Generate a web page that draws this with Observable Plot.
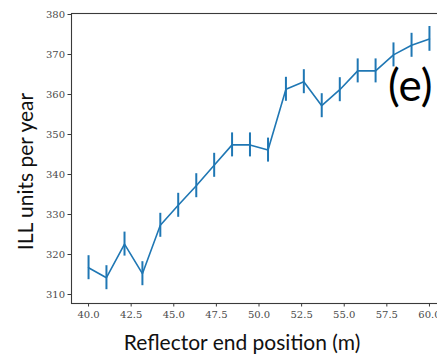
<!DOCTYPE html>
<html>
<head>
<meta charset="utf-8">
<script src="https://cdn.jsdelivr.net/npm/d3@7"></script>
<script src="https://cdn.jsdelivr.net/npm/@observablehq/plot@0.6"></script>
<style>
  html, body { margin: 0; padding: 0; background: #fff; }
  #chart svg { overflow: hidden; }
</style>
</head>
<body>
<div id="chart"></div>
<script>
// Reflector end positions (m): 20 evenly spaced positions from 40 to 60
const positions = [40.00, 41.05, 42.11, 43.16, 44.21, 45.26, 46.32, 47.37, 48.42, 49.47,
                   50.53, 51.58, 52.63, 53.68, 54.74, 55.79, 56.84, 57.89, 58.95, 60.00];
// ILL units per year (mean)
const illValues = [316.7, 314.2, 322.6, 315.2, 327.3, 332.3, 337.2, 342.3, 347.4, 347.4,
                   346.1, 361.3, 363.2, 357.2, 361.2, 365.9, 365.9, 369.9, 372.3, 373.9];
// error bar half-widths
const illErrors = [3.0, 3.0, 3.0, 3.0, 3.0, 3.0, 3.0, 3.0, 3.0, 3.0,
                   3.0, 3.0, 3.0, 3.0, 3.0, 3.0, 3.0, 3.0, 3.0, 3.1];
const xTicks = [40.0, 42.5, 45.0, 47.5, 50.0, 52.5, 55.0, 57.5, 60.0];
const yTicks = [310, 320, 330, 340, 350, 360, 370, 380];
const panelLabel = "(e)";
const xLabel = "Reflector end position (m)";
const yLabel = "ILL units per year";

const data = positions.map((x, i) => ({x, y: illValues[i], e: illErrors[i]}));

const blue = "#1f77b4";
const axisColor = "#3a3a3a";

const chart = Plot.plot({
  width: 437,
  height: 357,
  marginLeft: 71,
  marginRight: -9,
  marginTop: 13,
  marginBottom: 54,
  style: {background: "#fff"},
  x: {domain: [39, 61], ticks: xTicks, tickFormat: d => d.toFixed(1)},
  y: {domain: [307.75, 380.25], ticks: yTicks, tickFormat: d => String(d)},
  marks: [
    Plot.frame({stroke: axisColor, strokeWidth: 1.1}),
    Plot.axisX({ticks: xTicks, tickFormat: d => d.toFixed(1), tickSize: 3.5, tickPadding: 4,
      fontSize: 10, fontFamily: "DejaVu Serif", color: "#4a4a4a", stroke: axisColor, label: null}),
    Plot.axisY({ticks: yTicks, tickSize: 3.5, tickPadding: 3,
      fontSize: 10, fontFamily: "DejaVu Serif", color: "#4a4a4a", stroke: axisColor, label: null}),
    Plot.line(data, {x: "x", y: "y", stroke: blue, strokeWidth: 1.6}),
    Plot.ruleX(data, {x: "x", y1: d => d.y - d.e, y2: d => d.y + d.e, stroke: blue, strokeWidth: 2}),
    Plot.text([panelLabel], {frameAnchor: "top-right", textAnchor: "end", lineAnchor: "middle",
      dx: -14, dy: 73, fontSize: 44, fontFamily: "Lato", fill: "#000"}),
    Plot.text([xLabel], {frameAnchor: "bottom", textAnchor: "middle", lineAnchor: "middle", dx: -17, dy: 40,
      fontSize: 21, fontFamily: "Lato", fill: "#111"}),
    Plot.text([yLabel], {frameAnchor: "left", textAnchor: "middle", rotate: -90, lineAnchor: "middle", dx: -45, dy: 13,
      fontSize: 21, fontFamily: "Lato", fill: "#111"})
  ]
});
document.getElementById("chart").appendChild(chart);
</script>
</body>
</html>
